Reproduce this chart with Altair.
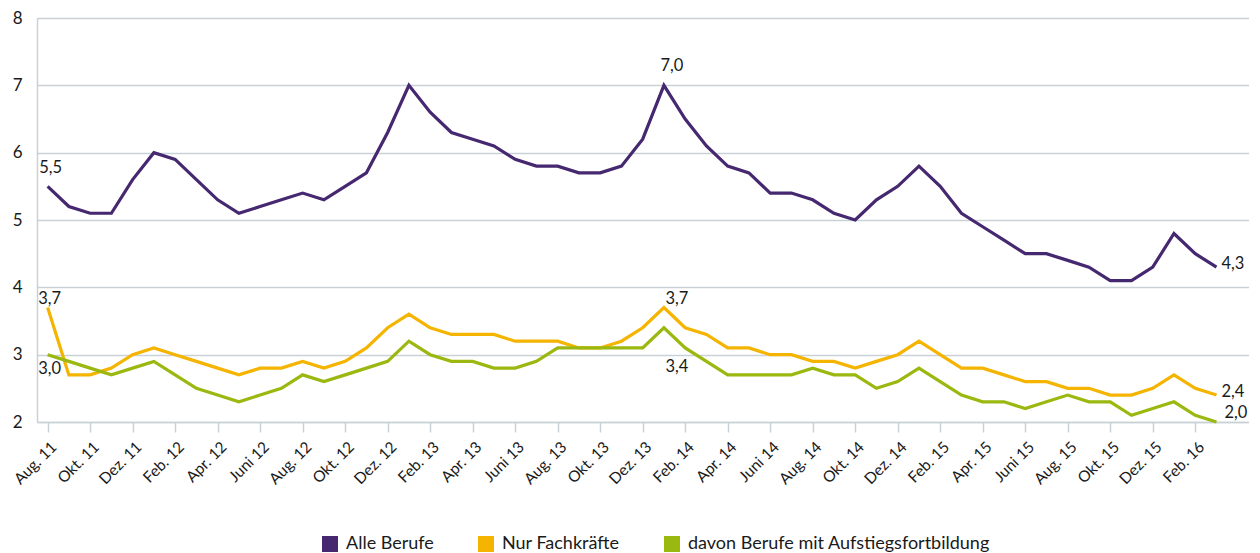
import json
import altair as alt
import pandas as pd

# ---- data -------------------------------------------------------------
tick_labels = ["Aug. 11", "Okt. 11", "Dez. 11", "Feb. 12", "Apr. 12", "Juni 12",
               "Aug. 12", "Okt. 12", "Dez. 12", "Feb. 13", "Apr. 13", "Juni 13",
               "Aug. 13", "Okt. 13", "Dez. 13", "Feb. 14", "Apr. 14", "Juni 14",
               "Aug. 14", "Okt. 14", "Dez. 14", "Feb. 15", "Apr. 15", "Juni 15",
               "Aug. 15", "Okt. 15", "Dez. 15", "Feb. 16"]

series_names = ["Alle Berufe", "Nur Fachkräfte", "davon Berufe mit Aufstiegsfortbildung"]

alle_berufe = [5.5, 5.2, 5.1, 5.1, 5.6, 6.0, 5.9, 5.6, 5.3, 5.1, 5.2, 5.3,
               5.4, 5.3, 5.5, 5.7, 6.3, 7.0, 6.6, 6.3, 6.2, 6.1, 5.9, 5.8,
               5.8, 5.7, 5.7, 5.8, 6.2, 7.0, 6.5, 6.1, 5.8, 5.7, 5.4, 5.4,
               5.3, 5.1, 5.0, 5.3, 5.5, 5.8, 5.5, 5.1, 4.9, 4.7, 4.5, 4.5,
               4.4, 4.3, 4.1, 4.1, 4.3, 4.8, 4.5, 4.3]

nur_fachkraefte = [3.7, 2.7, 2.7, 2.8, 3.0, 3.1, 3.0, 2.9, 2.8, 2.7, 2.8, 2.8,
                   2.9, 2.8, 2.9, 3.1, 3.4, 3.6, 3.4, 3.3, 3.3, 3.3, 3.2, 3.2,
                   3.2, 3.1, 3.1, 3.2, 3.4, 3.7, 3.4, 3.3, 3.1, 3.1, 3.0, 3.0,
                   2.9, 2.9, 2.8, 2.9, 3.0, 3.2, 3.0, 2.8, 2.8, 2.7, 2.6, 2.6,
                   2.5, 2.5, 2.4, 2.4, 2.5, 2.7, 2.5, 2.4]

aufstiegsfortbildung = [3.0, 2.9, 2.8, 2.7, 2.8, 2.9, 2.7, 2.5, 2.4, 2.3, 2.4, 2.5,
                        2.7, 2.6, 2.7, 2.8, 2.9, 3.2, 3.0, 2.9, 2.9, 2.8, 2.8, 2.9,
                        3.1, 3.1, 3.1, 3.1, 3.1, 3.4, 3.1, 2.9, 2.7, 2.7, 2.7, 2.7,
                        2.8, 2.7, 2.7, 2.5, 2.6, 2.8, 2.6, 2.4, 2.3, 2.3, 2.2, 2.3,
                        2.4, 2.3, 2.3, 2.1, 2.2, 2.3, 2.1, 2.0]

colors = ["#45286f", "#f4b400", "#9ab80f"]

rows = []
for name, vals in zip(series_names, [alle_berufe, nur_fachkraefte, aufstiegsfortbildung]):
    for i, v in enumerate(vals):
        rows.append({"idx": i, "value": v, "series": name})
df = pd.DataFrame(rows)

FONT = "Lato"
GRID = "#c9d1d8"
TEXT = "#1a1a1a"

label_expr = json.dumps(tick_labels) + "[round(datum.value / 2)]"

x_enc = alt.X(
    "idx:Q",
    scale=alt.Scale(domain=[-0.5, 56.53], nice=False, zero=False),
    axis=alt.Axis(
        values=list(range(0, 56, 2)), labelExpr=label_expr, title=None,
        labelAngle=-45, labelAlign="right", labelBaseline="middle",
        labelPadding=12, labelOffset=6, labelFontSize=15.5, labelFont=FONT,
        labelColor=TEXT, labelOverlap=False, labelBound=False,
        grid=False, domainColor=GRID, domainWidth=1.5, tickColor=GRID,
        tickWidth=1.5, tickSize=10,
    ),
)
y_enc = alt.Y(
    "value:Q",
    scale=alt.Scale(domain=[2, 8], nice=False, zero=False),
    axis=alt.Axis(
        values=[2, 3, 4, 5, 6, 7, 8], title=None, labelFontSize=17,
        labelFont=FONT, labelColor=TEXT, labelPadding=15, ticks=False,
        labelOverlap=False, labelBound=False,
        grid=True, gridColor=GRID, gridWidth=1.5, domainColor=GRID, domainWidth=1.5,
    ),
)
color_scale = alt.Scale(domain=series_names, range=colors)

base = alt.Chart(df)

lines = base.mark_line(strokeWidth=3.2).encode(
    x=x_enc, y=y_enc,
    color=alt.Color(
        "series:N", scale=color_scale, sort=series_names,
        legend=alt.Legend(
            orient="none", legendX=284, legendY=517, direction="horizontal",
            title=None, symbolType="square", symbolSize=64, symbolStrokeWidth=8,
            symbolOpacity=1, labelFontSize=18, labelFont=FONT, labelColor=TEXT,
            columnPadding=32, labelOffset=7, labelLimit=400,
        ),
    ),
)

annotations = [
    # (series, index, align, dx, dy)
    ("Alle Berufe", 0, "center", 3, -18),
    ("Nur Fachkräfte", 0, "center", 2, -9),
    ("davon Berufe mit Aufstiegsfortbildung", 0, "center", 2, 14),
    ("Alle Berufe", 29, "center", 8, -19),
    ("Nur Fachkräfte", 29, "center", 13, -9),
    ("davon Berufe mit Aufstiegsfortbildung", 29, "center", 13, 39),
    ("Alle Berufe", 55, "left", 5, -3),
    ("Nur Fachkräfte", 55, "left", 5, -3),
    ("davon Berufe mit Aufstiegsfortbildung", 55, "left", 8, -9),
]

texts = []
for s, i, al, dx, dy in annotations:
    texts.append(
        base.transform_filter(
            (alt.datum.series == s) & (alt.datum.idx == i)
        ).transform_calculate(
            label="replace(format(datum.value, '.1f'), '.', ',')"
        ).mark_text(
            align=al, baseline="middle", dx=dx, dy=dy, fontSize=16.5,
            font=FONT, color=TEXT,
        ).encode(x=x_enc, y=y_enc, text="label:N")
    )

chart = alt.layer(lines, *texts).properties(
    width=1212, height=404,
    autosize=alt.AutoSizeParams(type="none"),
    padding={"left": 29, "top": 10, "right": 0, "bottom": 131},
).configure_view(stroke=None).configure(background="white")

chart.save("out.html", embed_options={"renderer": "svg", "actions": False})
